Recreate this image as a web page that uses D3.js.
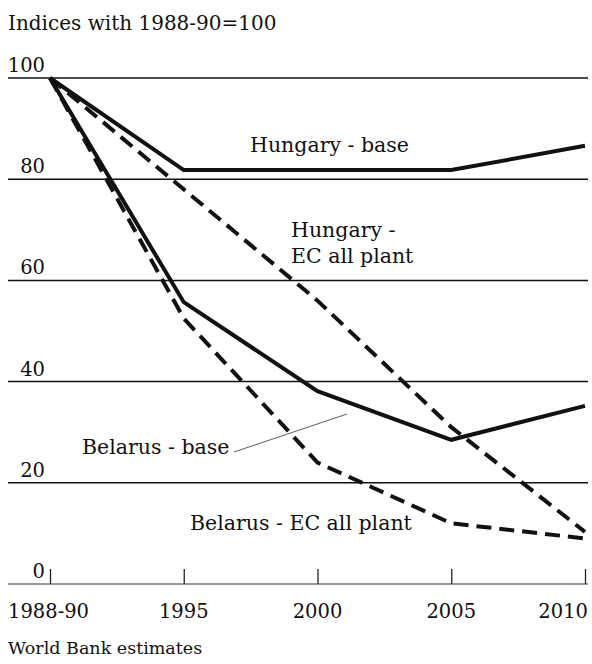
<!DOCTYPE html>
<html lang="en">
<head>
    <meta charset="UTF-8">
    <title>Indices with 1988-90=100</title>
    <style>
        body{
            margin: 0;
            overflow: hidden;
            background: #fff;
        }
        text{
            font-family: "DejaVu Serif", "Liberation Serif", serif;
            fill: #111;
        }
    </style>
</head>
<body>
    <script src="https://cdnjs.cloudflare.com/ajax/libs/d3/7.8.2/d3.min.js"></script>
    <script>

const years = ["1988-90", "1995", "2000", "2005", "2010"]
const yTicks = [0, 20, 40, 60, 80, 100]

const hungaryBase = [100, 81.8, 81.8, 81.8, 86.6]
const hungaryEC = [100, 78, 56, 31, 10.3]
const belarusBase = [100, 55.7, 38.1, 28.5, 35.2]
const belarusEC = [100, 52.5, 24, 12, 9]

const series = [
    {name: "Hungary - base", values: hungaryBase, dashed: false},
    {name: "Hungary - EC all plant", values: hungaryEC, dashed: true},
    {name: "Belarus - base", values: belarusBase, dashed: false},
    {name: "Belarus - EC all plant", values: belarusEC, dashed: true}
]

const width = 592, height = 664

const svg = d3.select('body')
    .append('svg')
    .attr('width', width)
    .attr('height', height)

const x = d3.scalePoint()
    .domain(years)
    .range([50, 585])

const y = d3.scaleLinear()
    .domain([0, 100])
    .range([584, 78])

// title
svg.append('text')
    .attr('x', 8)
    .attr('y', 30)
    .style('font-size', '20px')
    .text('Indices with 1988-90=100')

// grid lines
svg.append('g')
    .selectAll('line')
    .data(yTicks.filter(d => d > 0))
    .join('line')
    .attr('x1', 8)
    .attr('x2', 588)
    .attr('y1', d => y(d))
    .attr('y2', d => y(d))
    .attr('stroke', '#111')
    .attr('stroke-width', 1.5)

// y labels sit above the lines
svg.append('g')
    .selectAll('text')
    .data(yTicks)
    .join('text')
    .attr('x', 45)
    .attr('y', d => y(d) - 6)
    .attr('text-anchor', 'end')
    .style('font-size', '19.5px')
    .text(d => d)

// x axis
const xAxis = d3.axisTop(x)
    .tickSize(15)
    .tickFormat('')

const gx = svg.append('g')
    .attr('transform', `translate(0,${y(0)})`)
    .call(xAxis)
gx.select('.domain').remove()
gx.selectAll('.tick line').attr('stroke', '#222').attr('stroke-width', 1.3)

svg.append('line')
    .attr('x1', 8)
    .attr('x2', 588)
    .attr('y1', y(0))
    .attr('y2', y(0))
    .attr('stroke', '#333')
    .attr('stroke-width', 1.2)

svg.append('g')
    .selectAll('text')
    .data(years)
    .join('text')
    .attr('x', d => x(d))
    .attr('y', 618)
    .attr('text-anchor', (d, i) => i === 0 ? 'start' : i === years.length - 1 ? 'end' : 'middle')
    .attr('dx', (d, i) => i === 0 ? -42 : i === years.length - 1 ? 3 : 0)
    .style('font-size', '19.5px')
    .text(d => d)

// lines
const line = d3.line()
    .x((d, i) => x(years[i]))
    .y(d => y(d))

svg.append('g')
    .selectAll('path')
    .data(series)
    .join('path')
    .attr('d', d => line(d.values))
    .attr('fill', 'none')
    .attr('stroke', '#111')
    .attr('stroke-width', 4)
    .attr('stroke-dasharray', d => d.dashed ? '15,8' : null)

// labels
const labels = [
    {lines: ["Hungary - base"], x: 250, y: 152},
    {lines: ["Hungary -", "EC all plant"], x: 291, y: 237},
    {lines: ["Belarus - base"], x: 82, y: 454},
    {lines: ["Belarus - EC all plant"], x: 190, y: 530}
]

labels.forEach(l => {
    const t = svg.append('text')
        .attr('x', l.x)
        .attr('y', l.y)
        .style('font-size', '20.5px')
    l.lines.forEach((s, i) => {
        t.append('tspan')
            .attr('x', l.x)
            .attr('dy', i === 0 ? 0 : 26)
            .text(s)
    })
})

// leader for Belarus - base
svg.append('line')
    .attr('x1', 234)
    .attr('y1', 452)
    .attr('x2', 347)
    .attr('y2', 414)
    .attr('stroke', '#333')
    .attr('stroke-width', 0.8)

svg.append('text')
    .attr('x', 8)
    .attr('y', 654)
    .style('font-size', '17.5px')
    .text('World Bank estimates')

    </script>
</body>
</html>
